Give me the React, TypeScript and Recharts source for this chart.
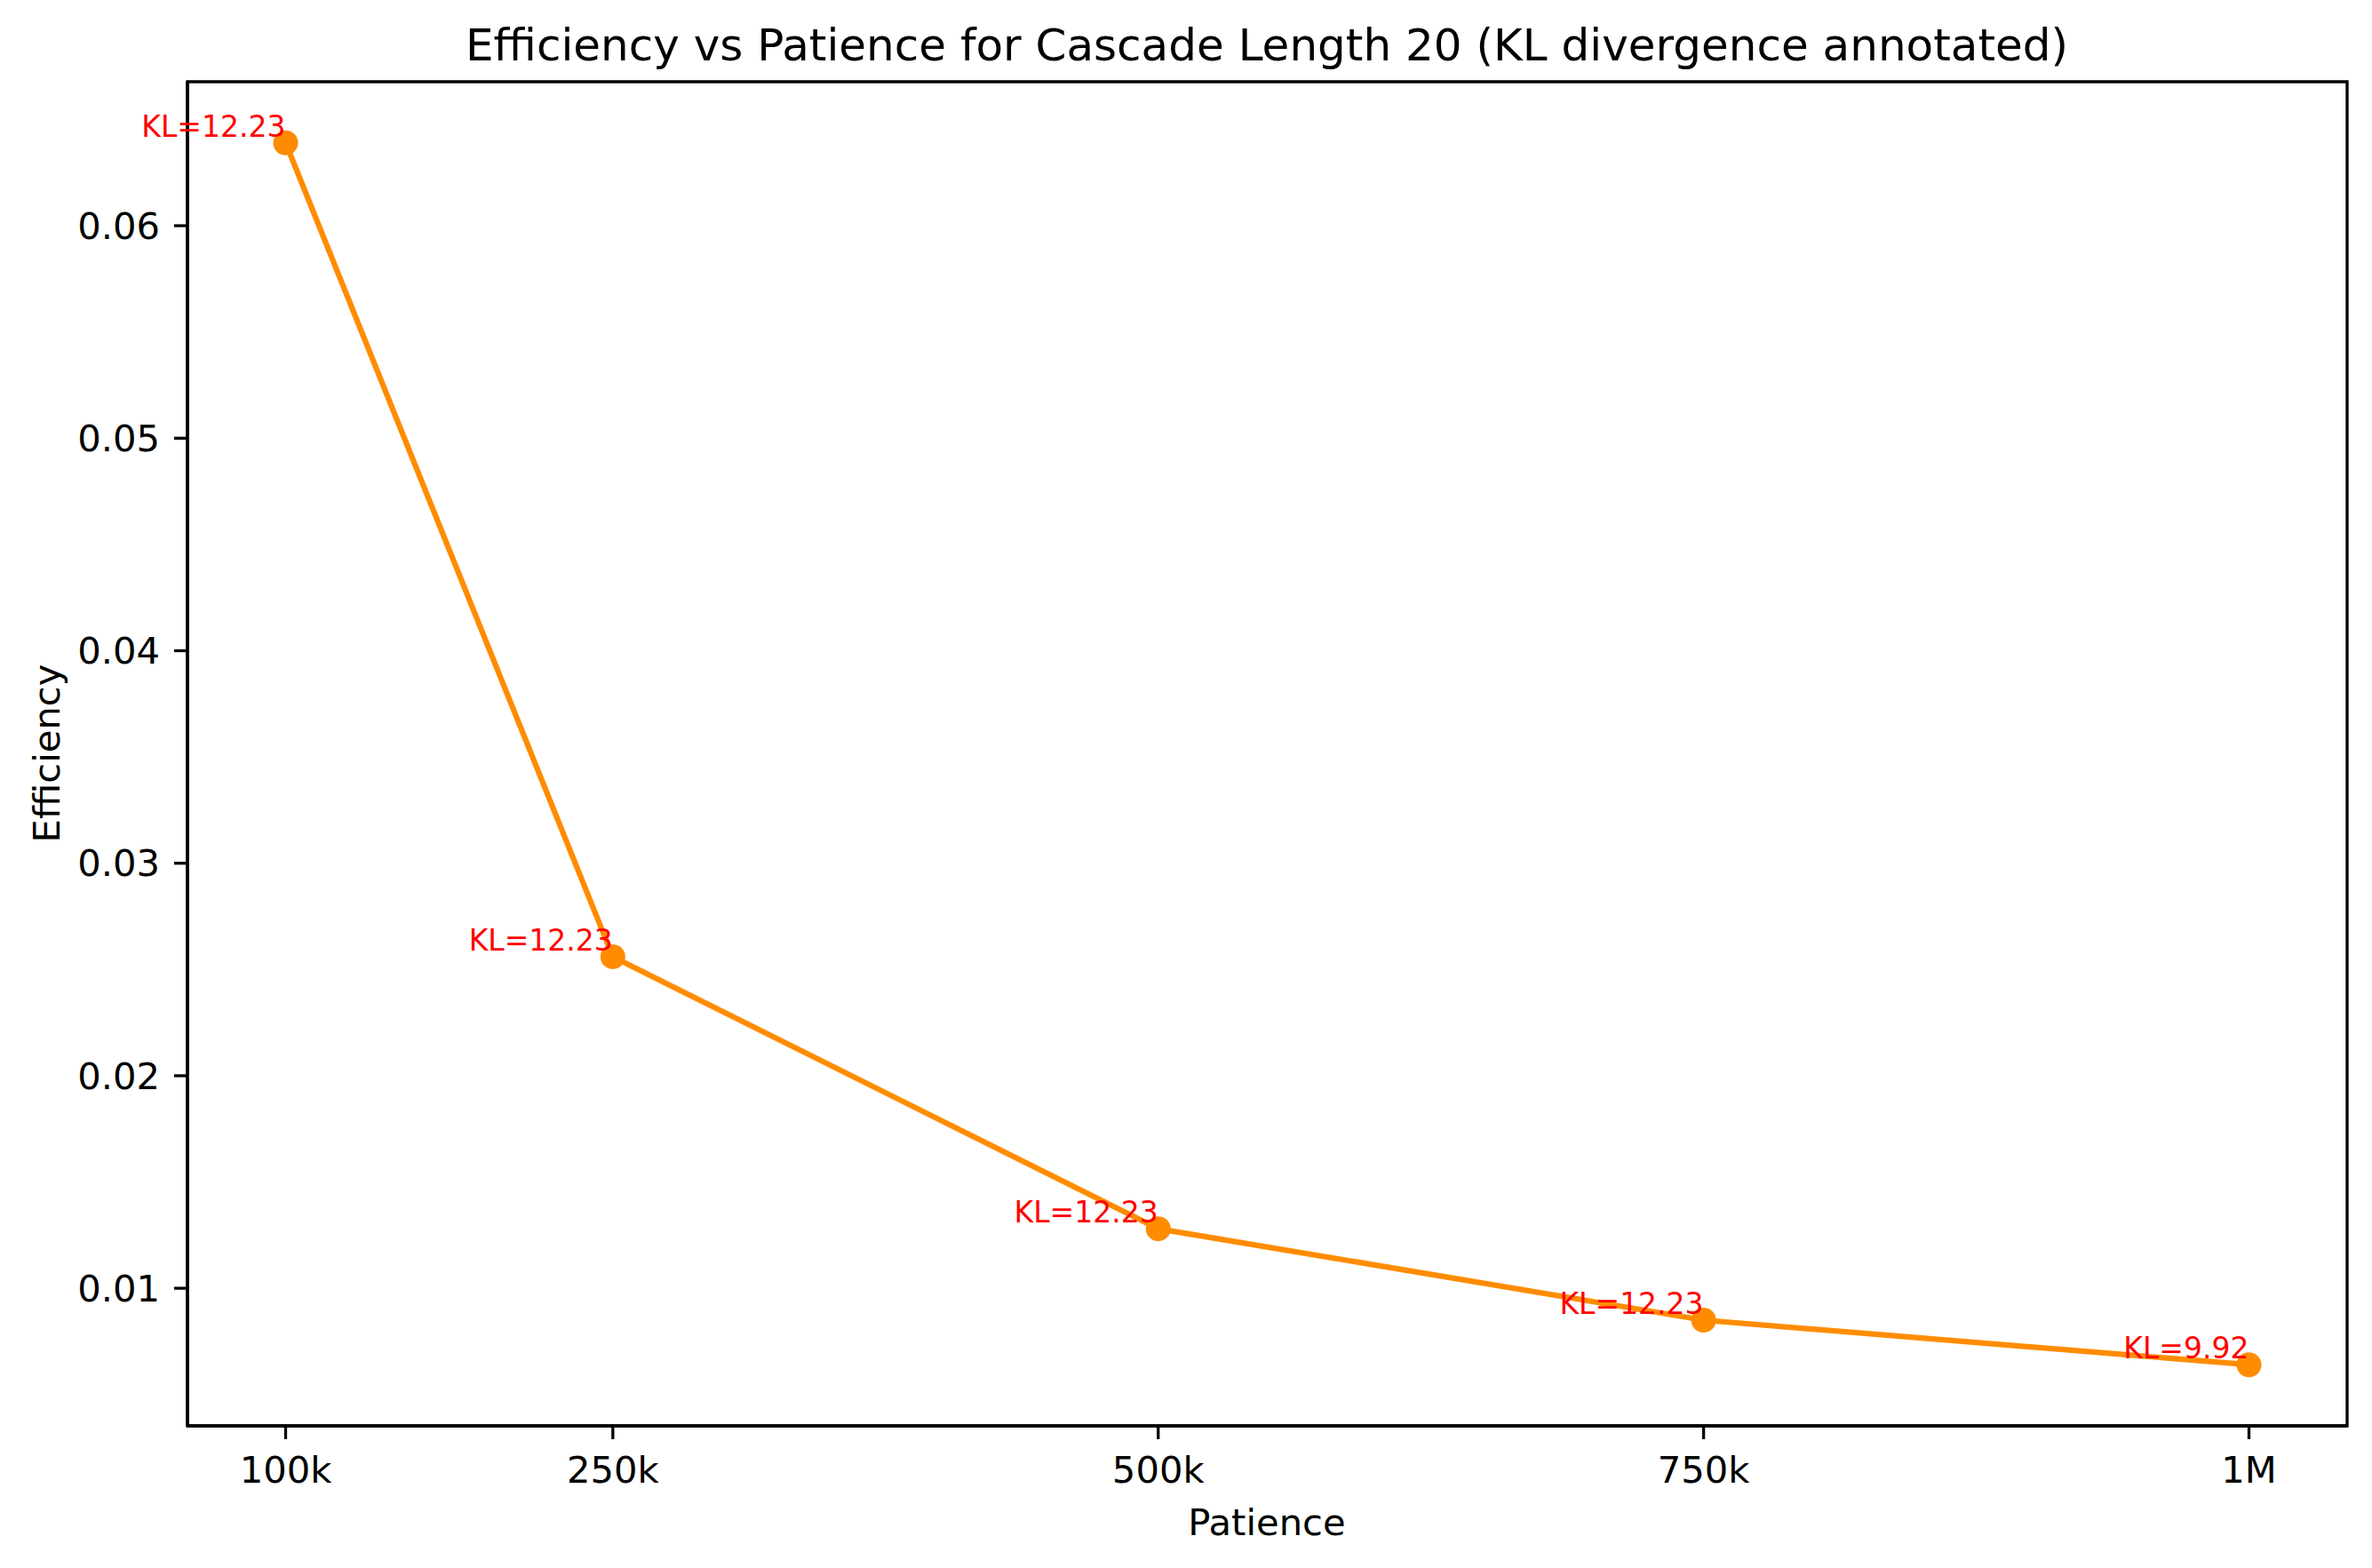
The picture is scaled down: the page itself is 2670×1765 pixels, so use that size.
import React from 'react';
import {
  Customized,
  LabelList,
  Line,
  LineChart,
  ReferenceArea,
  XAxis,
  YAxis,
} from 'recharts';

const patience = [100000, 250000, 500000, 750000, 1000000];
const efficiency = [0.0639, 0.0256, 0.0128, 0.0085, 0.0064];
const klValues = ['12.23', '12.23', '12.23', '12.23', '9.92'];

const xTicks = [100000, 250000, 500000, 750000, 1000000];
const xTickLabels = ['100k', '250k', '500k', '750k', '1M'];
const yTicks = [0.01, 0.02, 0.03, 0.04, 0.05, 0.06];

// matplotlib-style 5% margins
const X_DOMAIN: [number, number] = [55000, 1045000];
const Y_DOMAIN: [number, number] = [0.003525, 0.066775];

const data = patience.map((p, i) => ({
  patience: p,
  efficiency: efficiency[i],
  kl: klValues[i],
}));

const FONT = "'DejaVu Sans', sans-serif";
const W = 2670;
const H = 1765;

const tickStyle = { fill: '#000', fontSize: 41.7, fontFamily: FONT };
const lineStyle = { stroke: '#000', strokeWidth: 3.3 };

function Titles() {
  return (
    <g fontFamily={FONT} fill='#000'>
      <text x={1426} y={68} fontSize={50} textAnchor='middle'>
        Efficiency vs Patience for Cascade Length 20 (KL divergence annotated)
      </text>
      <text x={1426} y={1728} fontSize={41.7} textAnchor='middle'>
        Patience
      </text>
      <text
        x={67}
        y={848}
        fontSize={41.7}
        textAnchor='middle'
        transform='rotate(-90 67 848)'
      >
        Efficiency
      </text>
    </g>
  );
}

export default function App() {
  return (
    <div
      style={{
        position: 'absolute',
        left: 0,
        top: 0,
        width: W,
        height: H,
        background: '#fff',
      }}
    >
      <LineChart
        width={W}
        height={H}
        data={data}
        margin={{ top: 92, right: 28, bottom: 100, left: 111 }}
      >
        <XAxis
          type='number'
          dataKey='patience'
          domain={X_DOMAIN}
          allowDataOverflow
          ticks={xTicks}
          tickFormatter={(v) => xTickLabels[xTicks.indexOf(v)] ?? ''}
          height={60}
          tick={tickStyle}
          tickSize={15}
          tickMargin={19}
          tickLine={lineStyle}
          axisLine={lineStyle}
          interval={0}
        />
        <YAxis
          type='number'
          domain={Y_DOMAIN}
          allowDataOverflow
          ticks={yTicks}
          tickFormatter={(v) => v.toFixed(2)}
          width={100}
          tick={tickStyle}
          tickSize={15}
          tickMargin={16}
          tickLine={lineStyle}
          axisLine={lineStyle}
          interval={0}
        />
        <ReferenceArea
          x1={X_DOMAIN[0]}
          x2={X_DOMAIN[1]}
          y1={Y_DOMAIN[0]}
          y2={Y_DOMAIN[1]}
          fill='none'
          fillOpacity={0}
          stroke='#000'
          strokeWidth={3.3}
          ifOverflow='visible'
        />
        <Line
          type='linear'
          dataKey='efficiency'
          stroke='#ff8c00'
          strokeWidth={6.25}
          dot={{ r: 14, fill: '#ff8c00', stroke: 'none', strokeWidth: 0 }}
          activeDot={false}
          isAnimationActive={false}
        >
          <LabelList
            dataKey='kl'
            content={(p: any) => (
              <text
                x={p.x}
                y={p.y - 7}
                textAnchor='end'
                fill='#ff0000'
                fontSize={33}
                fontFamily={FONT}
              >
                {`KL=${p.value}`}
              </text>
            )}
          />
        </Line>
        <Customized component={<Titles />} />
      </LineChart>
    </div>
  );
}
